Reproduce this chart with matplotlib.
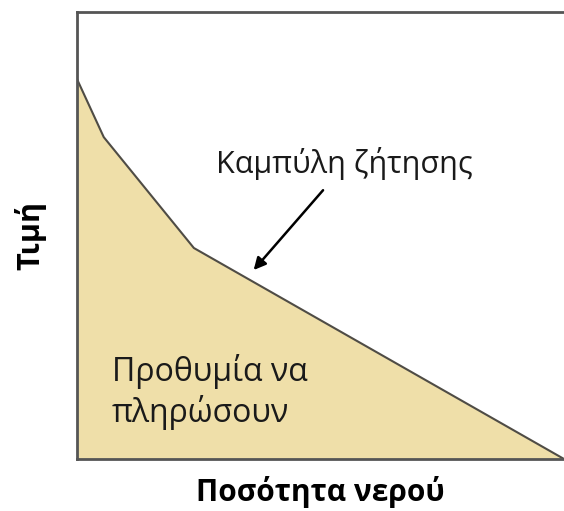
import matplotlib
matplotlib.use('Agg')
import matplotlib.pyplot as plt

# demand curve (quantity, price) in arbitrary units
quantity = [0, 5.5, 24.0, 100]
price = [85.0, 72.0, 47.2, 0]

curve_label = 'Καμπύλη ζήτησης'
area_label = 'Προθυμία να\nπληρώσουν'
x_label = 'Ποσότητα νερού'
y_label = 'Τιμή'

plt.rcParams['font.family'] = ['Open Sans', 'DejaVu Sans']

fig = plt.figure(figsize=(5.64, 5.11), dpi=100)
ax = fig.add_axes([0.1365, 0.1018, 0.8635, 0.8747])

ax.fill_between(quantity, price, 0, color='#efdfa9', linewidth=0)
ax.plot(quantity, price, color='#4f4c45', lw=1.5)

ax.annotate('', xy=(35.9, 41.8), xytext=(50.9, 60.6),
            arrowprops=dict(arrowstyle='-|>', color='black', lw=1.8, mutation_scale=18))
ax.text(54.8, 66.2, curve_label, ha='center', va='center', fontsize=22, color='#1a1a1a')
ax.text(7.2, 8.3, area_label, ha='left', va='baseline', fontsize=23, color='#1a1a1a',
        linespacing=1.2)

ax.set_xlim(0, 100)
ax.set_ylim(0, 100)
ax.set_xticks([])
ax.set_yticks([])
ax.spines['right'].set_visible(False)
for s in ['left', 'top', 'bottom']:
    ax.spines[s].set_color('#555555')
    ax.spines[s].set_linewidth(2)

ax.set_xlabel(x_label, fontsize=21.5, fontweight='bold', labelpad=12)
ax.set_ylabel(y_label, fontsize=22, fontweight='bold', labelpad=22)

fig.savefig('out.png', dpi=100)
